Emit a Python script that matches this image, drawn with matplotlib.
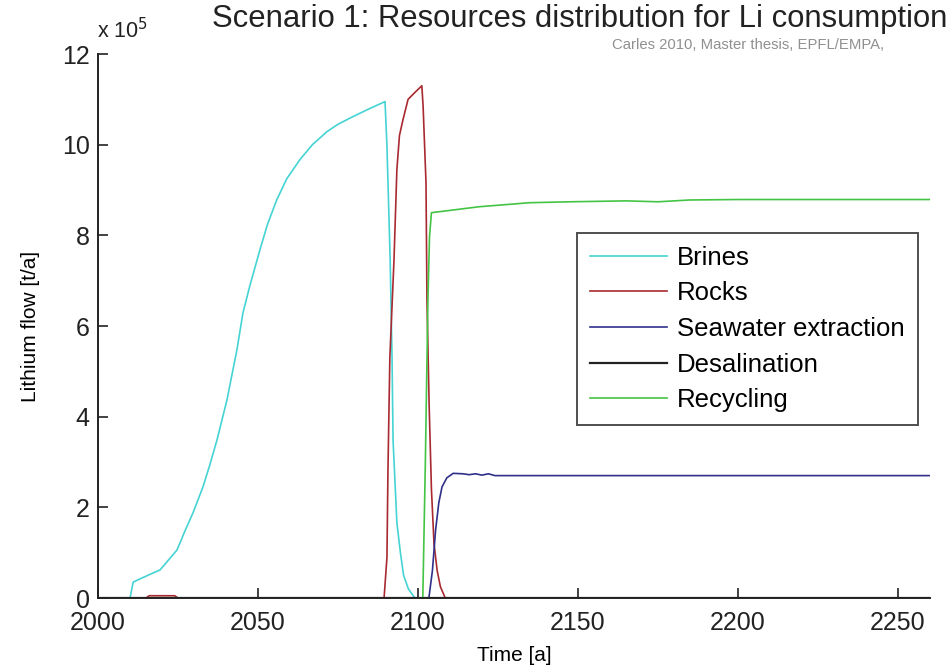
import matplotlib
matplotlib.use('Agg')
import matplotlib.pyplot as plt

plt.rcParams['font.family'] = ['Liberation Sans', 'DejaVu Sans']

# flows in 1e5 t/a
brines_t = [2000, 2010, 2011, 2014, 2019.4, 2024.7, 2027, 2029.7, 2032.8, 2035, 2037.2, 2040.3,
            2043.4, 2045.3, 2047.5, 2050.6, 2053, 2055.9, 2059, 2063.1, 2067, 2071.6, 2075,
            2079.7, 2085, 2089.7, 2090.3, 2091.3, 2091.9, 2092.2, 2093.4, 2094.5, 2095.5,
            2097, 2099, 2260]
brines = [0, 0, 0.35, 0.45, 0.62, 1.06, 1.45, 1.88, 2.45, 2.95, 3.49, 4.37,
          5.47, 6.29, 6.9, 7.68, 8.25, 8.79, 9.25, 9.67, 10.0, 10.29, 10.45,
          10.62, 10.8, 10.95, 9.96, 7.46, 5.25, 3.49, 1.66, 1.0, 0.5,
          0.2, 0, 0]

rocks_t = [2000, 2015, 2016, 2024, 2025, 2089.4, 2090.3, 2090.6, 2091.2, 2092.5, 2093.4, 2094.2,
           2095.3, 2096.9, 2099, 2101.2, 2101.6, 2102.5, 2102.8, 2103.5, 2104.2, 2105,
           2106, 2107, 2108.5, 2260]
rocks = [0, 0, 0.05, 0.05, 0, 0, 0.9, 2.76, 5.3, 7.46, 9.45, 10.2,
         10.55, 11.0, 11.15, 11.3, 10.84, 9.16, 6.58, 4.2, 2.4, 1.2,
         0.6, 0.25, 0, 0]

seawater_t = [2000, 2103.4, 2104.5, 2105.5, 2106.5, 2107.5, 2109, 2111, 2114, 2116, 2118,
              2120, 2122, 2124, 2260]
seawater = [0, 0, 0.6, 1.5, 2.1, 2.45, 2.65, 2.75, 2.74, 2.72, 2.74,
            2.71, 2.74, 2.7, 2.7]

desal_t = [2000, 2260]
desal = [0, 0]

recycling_t = [2000, 2101.5, 2102.3, 2103.1, 2103.6, 2104.2, 2110, 2119, 2135, 2147.5,
               2165, 2175, 2185, 2200, 2230, 2260]
recycling = [0, 0, 3.0, 6.58, 7.97, 8.5, 8.55, 8.63, 8.72, 8.74,
             8.76, 8.74, 8.78, 8.79, 8.79, 8.79]

xticks = [2000, 2050, 2100, 2150, 2200, 2250]
yticks = [0, 2, 4, 6, 8, 10, 12]

fig = plt.figure(figsize=(9.49, 6.69), dpi=100)
ax = fig.add_axes([98 / 949, 1 - 598 / 669, (930 - 98) / 949, (598 - 54) / 669])

ax.plot(brines_t, brines, color='#45d3d3', lw=1.2, label='Brines')
ax.plot(rocks_t, rocks, color='#a82a30', lw=1.2, label='Rocks')
ax.plot(seawater_t, seawater, color='#30308a', lw=1.2, label='Seawater extraction')
ax.plot(desal_t, desal, color='#222222', lw=1.6, label='Desalination')
ax.plot(recycling_t, recycling, color='#44c444', lw=1.2, label='Recycling')

ax.set_xlim(2000, 2260)
ax.set_ylim(0, 12)
ax.set_xticks(xticks)
ax.set_yticks(yticks)
ax.tick_params(direction='in', length=7, width=1.2, labelsize=18, pad=6, colors='#222222')
ax.tick_params(axis='x', pad=9)
for s in ['top', 'right']:
    ax.spines[s].set_visible(False)
for s in ['left', 'bottom']:
    ax.spines[s].set_linewidth(1.4)
    ax.spines[s].set_color('#222222')

ax.set_xlabel('Time [a]', fontsize=15, labelpad=8)
ax.set_ylabel('Lithium flow [t/a]', fontsize=15, labelpad=16)

fig.text(212 / 949, 1 - 19 / 669, 'Scenario 1: Resources distribution for Li consumption',
         fontsize=22.3, va='center', ha='left', color='#222222')
fig.text(97 / 949, 1 - 31 / 669, r'x 10$^{5}$', fontsize=15.5, va='center', ha='left',
         color='#222222')
fig.text(612 / 949, 1 - 45 / 669, 'Carles 2010, Master thesis, EPFL/EMPA,',
         fontsize=10.7, va='center', ha='left', color='#909090')

leg = ax.legend(loc='upper left', bbox_to_anchor=((577 - 98) / 832, (598 - 233) / 544),
                fontsize=18.5, frameon=True, fancybox=False, handlelength=3.0,
                handletextpad=0.4, labelspacing=0.45, borderpad=0.5, borderaxespad=0)
leg.get_frame().set_edgecolor('#222222')
leg.get_frame().set_linewidth(1.4)

fig.savefig('out.png', dpi=100)
